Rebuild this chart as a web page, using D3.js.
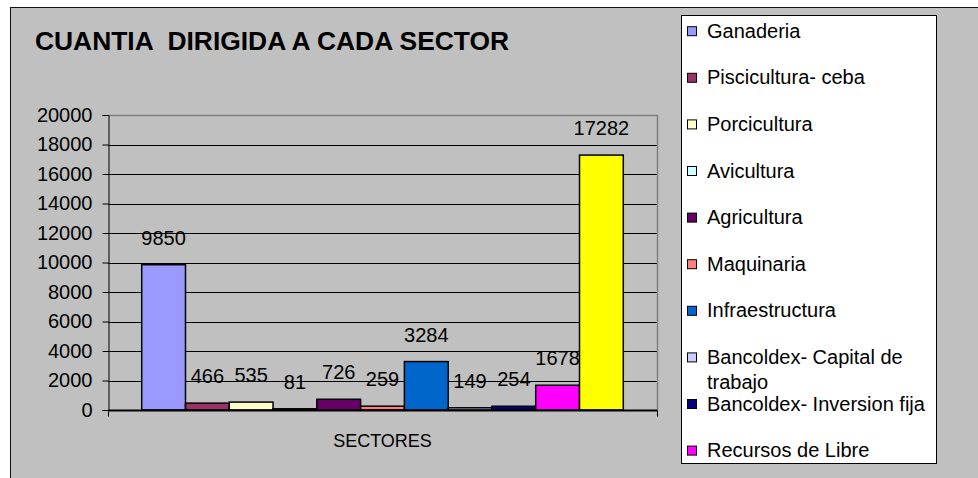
<!DOCTYPE html>
<html>
<head>
<meta charset="UTF-8">
<title>Cuantia dirigida a cada sector</title>
<script src="https://d3js.org/d3.v7.min.js"></script>
<style>
  body { margin: 0; background: #fff; }
  svg text { font-family: "Liberation Sans", Arial, sans-serif; fill: #000; }
</style>
</head>
<body>
<script>
// series (one category, eleven series)
var sectores = ["Ganaderia", "Piscicultura- ceba", "Porcicultura", "Avicultura", "Agricultura",
  "Maquinaria", "Infraestructura", "Bancoldex- Capital de trabajo", "Bancoldex- Inversion fija",
  "Recursos de Libre", "Total"];
var valores = [9850, 466, 535, 81, 726, 259, 3284, 149, 254, 1678, 17282];
var colores = ["#9999FF", "#993366", "#FFFFCC", "#CCFFFF", "#660066", "#FF8080",
  "#0066CC", "#CCCCFF", "#000080", "#FF00FF", "#FFFF00"];
var yTicks = [0, 2000, 4000, 6000, 8000, 10000, 12000, 14000, 16000, 18000, 20000];
var categoria = "SECTORES";
var titulo = "CUANTIA  DIRIGIDA A CADA SECTOR";

var W = 978, H = 478;
var plot = {left: 108, right: 657, top: 115, bottom: 410};

var svg = d3.select("body").append("svg")
  .attr("width", W).attr("height", H);

// chart area
svg.append("rect")
  .attr("x", 10.5).attr("y", 7.5)
  .attr("width", W + 10).attr("height", H + 10)
  .attr("fill", "#C0C0C0")
  .attr("stroke", "#111").attr("stroke-width", 1);

svg.append("text")
  .attr("x", 35).attr("y", 50)
  .style("font-size", "26.4px").style("font-weight", "bold")
  .style("white-space", "pre")
  .text(titulo);

var x = d3.scaleBand()
  .domain(sectores)
  .range([plot.left, plot.right])
  .paddingInner(0)
  .paddingOuter(0.77);

var y = d3.scaleLinear()
  .domain([0, 20000])
  .range([plot.bottom, plot.top]);

// gridlines
svg.append("g")
  .selectAll("line")
  .data(yTicks.filter(d => d > 0 && d < 20000))
  .join("line")
  .attr("x1", plot.left).attr("x2", plot.right)
  .attr("y1", d => Math.round(y(d)) + 0.5).attr("y2", d => Math.round(y(d)) + 0.5)
  .attr("stroke", "#000").attr("stroke-width", 1);

// plot frame top / right
svg.append("path")
  .attr("d", "M" + plot.left + "," + (plot.top + 0.5) + "H" + (plot.right + 0.5) + "V" + plot.bottom)
  .attr("fill", "none").attr("stroke", "#808080").attr("stroke-width", 1.5);

// bars
svg.append("g")
  .selectAll("rect")
  .data(valores)
  .join("rect")
  .attr("x", (d, i) => x(sectores[i]))
  .attr("y", d => y(d))
  .attr("width", x.bandwidth())
  .attr("height", d => plot.bottom - y(d))
  .attr("fill", (d, i) => colores[i])
  .attr("stroke", "#000").attr("stroke-width", 1.5);

// value labels
svg.append("g")
  .selectAll("text")
  .data(valores)
  .join("text")
  .attr("x", (d, i) => x(sectores[i]) + x.bandwidth() / 2)
  .attr("y", d => y(d) - 20)
  .attr("text-anchor", "middle")
  .style("font-size", "20px")
  .text(d => d);

// y axis
var yAxis = svg.append("g")
  .attr("transform", "translate(" + (plot.left + 0.5) + ",0)")
  .call(d3.axisLeft(y).tickValues(yTicks).tickSize(6).tickPadding(10).tickFormat(d3.format("d")));
yAxis.select(".domain").attr("stroke", "#000");
yAxis.selectAll(".tick line").attr("stroke", "#000");
yAxis.selectAll("text").style("font-size", "20px").style("font-family", '"Liberation Sans", Arial, sans-serif').attr("fill", "#000");

// category axis
var xc = d3.scaleBand().domain([categoria]).range([plot.left, plot.right]);
var xAxis = svg.append("g")
  .attr("transform", "translate(0," + (plot.bottom + 0.5) + ")");
xAxis.append("line")
  .attr("x1", plot.left).attr("x2", plot.right + 0.5)
  .attr("stroke", "#000").attr("stroke-width", 2);
xAxis.selectAll(".edge")
  .data([plot.left + 0.5, plot.right + 0.5])
  .join("line")
  .attr("x1", d => d).attr("x2", d => d)
  .attr("y1", 0).attr("y2", 6)
  .attr("stroke", "#000");
xAxis.append("text")
  .attr("x", xc(categoria) + xc.bandwidth() / 2)
  .attr("y", 36)
  .attr("text-anchor", "middle")
  .style("font-size", "18px")
  .text(categoria);

// legend (box only shows the first ten entries)
var legend = svg.append("g");
legend.append("rect")
  .attr("x", 681.5).attr("y", 15.5)
  .attr("width", 255).attr("height", 448)
  .attr("fill", "#fff").attr("stroke", "#000").attr("stroke-width", 1);

var items = legend.selectAll(".item")
  .data(sectores.slice(0, 10))
  .join("g")
  .attr("class", "item")
  .attr("transform", (d, i) => "translate(0," + (37.7 + 46.6 * i) + ")");

items.append("rect")
  .attr("x", 687.5).attr("y", -11)
  .attr("width", 9).attr("height", 9)
  .attr("fill", d => colores[sectores.indexOf(d)])
  .attr("stroke", "#000").attr("stroke-width", 1);

items.each(function(d) {
  var t = d3.select(this).append("text")
    .attr("x", 707).attr("y", 0)
    .style("font-size", "20px");
  var words = d.split(" "), line = [];
  var tspan = t.append("tspan").attr("x", 707).attr("dy", 0);
  words.forEach(function(w) {
    line.push(w);
    tspan.text(line.join(" "));
    if (tspan.node().getComputedTextLength() > 226 && line.length > 1) {
      line.pop();
      tspan.text(line.join(" "));
      line = [w];
      tspan = t.append("tspan").attr("x", 707).attr("dy", 25).text(w);
    }
  });
});
</script>
</body>
</html>
